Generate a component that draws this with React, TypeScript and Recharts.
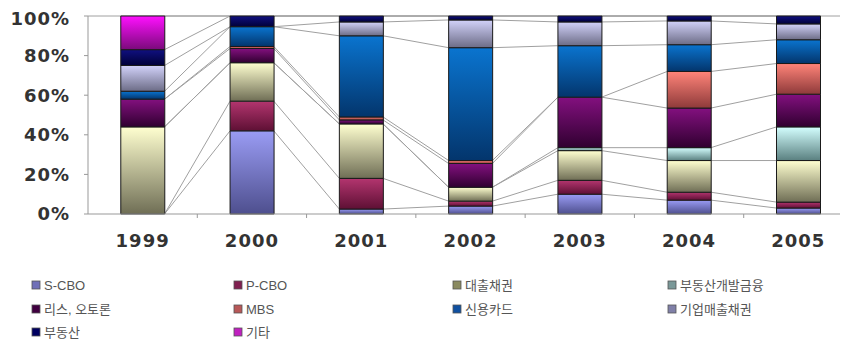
import React from 'react';
import * as R from 'recharts';
import { BarChart, Bar, XAxis, YAxis } from 'recharts';

const years = ['1999', '2000', '2001', '2002', '2003', '2004', '2005'];
const sCbo = [0, 42, 2.5, 4, 10, 7, 3];
const pCbo = [0, 15, 15.5, 2.5, 7, 4, 3];
const loans = [44, 19.4, 27.5, 7, 15, 16, 21];
const pfFinance = [0, 0, 0, 0, 1.5, 6.5, 17];
const leaseAuto = [14, 7.2, 2, 12, 25.5, 20, 16.5];
const mbs = [0, 1, 1.5, 1.5, 0, 18.5, 15.5];
const creditCard = [4, 10, 41, 57, 26, 13.5, 12];
const corpReceivables = [13, 0, 7, 14, 12, 12, 8];
const realEstate = [8, 5.4, 3, 2, 3, 2.5, 4];
const other = [17, 0, 0, 0, 0, 0, 0];
const yTicks = [0, 20, 40, 60, 80, 100];

const seriesNames = ['S-CBO', 'P-CBO', '대출채권', '부동산개발금융', '리스, 오토론', 'MBS', '신용카드', '기업매출채권', '부동산', '기타'];
const seriesValues = [sCbo, pCbo, loans, pfFinance, leaseAuto, mbs, creditCard, corpReceivables, realEstate, other];
const gradTop = ['#9a9cf4', '#b3356f', '#ffffd0', '#d4ffff', '#83107f', '#ff8479', '#0a74cf', '#d2d2fa', '#101080', '#ff10ff'];
const gradBottom = ['#4e4f8e', '#5e1034', '#6f6e55', '#5a8080', '#300030', '#8e3a3a', '#03356c', '#6c6c86', '#000038', '#7a0a7a'];
const legendColors = ['#7070b8', '#802050', '#8a8a60', '#7a9898', '#400040', '#b85858', '#1050a0', '#8080a8', '#000060', '#c020c0'];

const keys = seriesNames.map((_, i) => 's' + i);
const data = years.map((y, yi) => {
  const row: any = { year: y };
  keys.forEach((k, si) => { row[k] = seriesValues[si][yi]; });
  return row;
});

const CHART_W = 845;
const CHART_H = 351;
const MARGIN = { top: 8, right: 0, bottom: 115, left: 0 };
const YAXIS_W = 80;
const XAXIS_H = 30;
const GAP = 0.3;

function usePlot() {
  const hook = (R as any).usePlotArea;
  const p = hook ? hook() : null;
  if (p) return p;
  return {
    x: MARGIN.left + YAXIS_W,
    y: MARGIN.top,
    width: CHART_W - MARGIN.left - MARGIN.right - YAXIS_W,
    height: CHART_H - MARGIN.top - MARGIN.bottom - XAXIS_H,
  };
}

function SeriesLines() {
  const plot = usePlot();
  const n = years.length;
  const band = plot.width / n;
  const off = band * GAP;
  const bw = band - 2 * off;
  const yOf = (v: number) => plot.y + plot.height * (1 - v / 100);
  const cums = years.map((_, yi) => {
    let c = 0;
    return seriesValues.map((s) => { c += s[yi]; return c; });
  });
  const lines: any[] = [];
  for (let i = 0; i < n - 1; i++) {
    for (let s = 0; s < seriesValues.length; s++) {
      lines.push(
        <line key={i + '-' + s}
          x1={plot.x + i * band + off + bw} y1={yOf(cums[i][s])}
          x2={plot.x + (i + 1) * band + off} y2={yOf(cums[i + 1][s])}
          stroke="#a0a0a0" strokeWidth={1} />
      );
    }
  }
  const ticks: any[] = [];
  for (let i = 1; i < n; i++) {
    const x = plot.x + i * band;
    ticks.push(<line key={'t' + i} x1={x} x2={x} y1={plot.y + plot.height} y2={plot.y + plot.height + 4} stroke="#999" />);
  }
  return (
    <g>
      <line x1={plot.x} x2={plot.x + plot.width} y1={plot.y} y2={plot.y} stroke="#a0a0a0" />
      {lines}
      {ticks}
    </g>
  );
}

const legendCols = [24, 226, 445, 660];
const legendRows = [277, 301, 324];

function LegendBlock() {
  return (
    <g>
      {seriesNames.map((name, i) => {
        const col = i % 4;
        const row = Math.floor(i / 4);
        const x = legendCols[col];
        const y = legendRows[row];
        return (
          <g key={name}>
            <rect x={x} y={y - 4} width={8} height={8} fill={legendColors[i]} stroke="#555" strokeWidth={0.8} />
            <text x={x + 12} y={y} dominantBaseline="central" fontSize={13}
              fontFamily="'Liberation Sans', 'Noto Sans CJK KR', sans-serif" fill="#555">{name}</text>
          </g>
        );
      })}
    </g>
  );
}

export default function App() {
  return (
    <div style={{ width: 840, height: CHART_H, overflow: 'hidden' }}>
      <BarChart width={CHART_W} height={CHART_H} data={data} margin={MARGIN} barCategoryGap="30%">
        <defs>
          {keys.map((k, i) => (
            <linearGradient key={k} id={'grad' + i} x1="0" y1="0" x2="0" y2="1">
              <stop offset="0%" stopColor={gradTop[i]} />
              <stop offset="100%" stopColor={gradBottom[i]} />
            </linearGradient>
          ))}
        </defs>
        <XAxis dataKey="year" height={XAXIS_H} tickLine={false} tickSize={0} tickMargin={20}
          axisLine={{ stroke: '#999' }} interval={0}
          tick={{ fontSize: 18, fontWeight: 'bold', fill: '#333', fontFamily: 'DejaVu Sans', letterSpacing: 1 }} />
        <YAxis width={YAXIS_W} domain={[0, 100]} ticks={yTicks} tickFormatter={(v: number) => v + '%'}
          tickSize={4} tickMargin={14} axisLine={{ stroke: '#999' }} tickLine={{ stroke: '#999' }}
          tick={{ fontSize: 18, fontWeight: 'bold', fill: '#333', fontFamily: 'DejaVu Sans', letterSpacing: 1 }} />
        {keys.map((k, i) => (
          <Bar key={k} dataKey={k} stackId="a" fill={'url(#grad' + i + ')'} stroke="#1a1a1a" strokeWidth={1}
            isAnimationActive={false} />
        ))}
        <SeriesLines />
        <LegendBlock />
      </BarChart>
    </div>
  );
}
